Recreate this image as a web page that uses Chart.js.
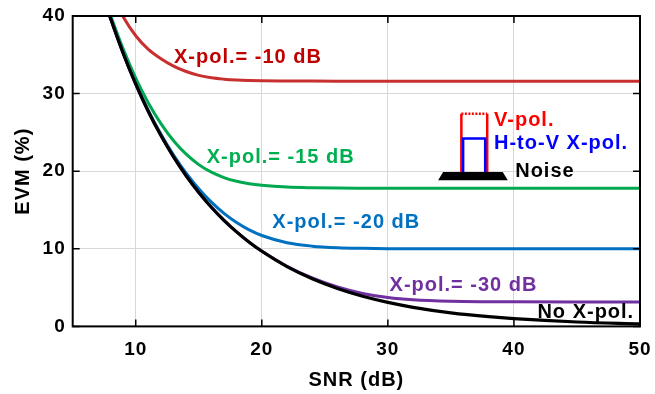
<!DOCTYPE html>
<html><head><meta charset="utf-8">
<script src="https://cdn.jsdelivr.net/npm/chart.js@4"></script>
<style>html,body{margin:0;padding:0;background:#fff}</style>
</head><body>
<canvas id="c" width="655" height="394"></canvas>
<script>
// SNR (dB) sample points
const snr = [5,6,7,8,9,10,11,12,13,14,15,16,17,18,19,20,22,24,26,28,30,32,35,38,40,45,50];
// EVM (%)
const evmNoXpol = [56,50,44.5,39.7,35.2,31.22,27.69,24.59,21.84,19.41,17.26,15.36,13.67,12.18,10.85,9.68,7.7,6.13,4.88,3.88,3.09,2.46,1.75,1.25,1.0,0.57,0.32];
const evmXpol30 = [56,50,44.5,39.7,35.2,31.22,27.69,24.59,21.84,19.41,17.26,15.36,13.67,12.18,10.86,9.71,7.75,6.24,5.08,4.25,3.72,3.42,3.23,3.18,3.17,3.16,3.16];
const evmXpol20 = [56.01,50.02,44.53,39.74,35.26,31.3,27.81,24.76,22.08,19.74,17.73,16.01,14.56,13.38,12.43,11.71,10.78,10.34,10.14,10.06,10.02,10.01,10.0,10.0,10.0,10.0,10.0];
const evmXpol15 = [56.14,50.2,44.78,40.1,35.76,32.0,28.8,26.13,23.93,22.19,20.85,19.87,19.18,18.7,18.38,18.18,17.95,17.86,17.82,17.81,17.8,17.8,17.8,17.8,17.8,17.8,17.8];
const evmXpol10 = [57.2,51.8,47.0,43.1,39.9,37.45,35.7,34.5,33.55,32.85,32.35,32.03,31.86,31.76,31.7,31.66,31.63,31.61,31.6,31.6,31.6,31.6,31.6,31.6,31.6,31.6,31.6];
const xTickValues = [10,20,30,40,50];
const yTickValues = [0,10,20,30,40];
const seriesNames = ['No X-pol.','X-pol.= -30 dB','X-pol.= -20 dB','X-pol.= -15 dB','X-pol.= -10 dB'];
const insetTexts = ['V-pol.','H-to-V X-pol.','Noise'];

const lineColors = ['#000000','#7030a0','#0070c0','#00a84f','#c8302f'];
const textColors = ['#000000','#7030a0','#0070c0','#00b050','#c00000'];
const seriesValues = [evmNoXpol, evmXpol30, evmXpol20, evmXpol15, evmXpol10];
// label anchor (data coordinates) for each series name
const labelAnchors = [[45.7,1.75],[36.0,5.25],[26.7,13.4],[21.5,21.8],[18.9,34.7]];

const FONT = '"Liberation Sans", Arial, sans-serif';

const datasets = seriesValues.map((vals, i) => ({
  label: seriesNames[i],
  data: snr.map((s, k) => ({x: s, y: vals[k]})),
  borderColor: lineColors[i],
  borderWidth: i === 0 ? 3.2 : 3,
  pointRadius: 0,
  fill: false,
  cubicInterpolationMode: 'monotone'
}));

const spacing = {
  id: 'spacing',
  beforeDraw(chart) { chart.ctx.letterSpacing = '1px'; },
  afterDraw(chart) { chart.ctx.letterSpacing = '0px'; }
};

const overlay = {
  id: 'overlay',
  afterDatasetsDraw(chart) {
    const {ctx, chartArea: a, scales: {x, y}} = chart;
    const px = v => x.getPixelForValue(v), py = v => y.getPixelForValue(v);
    ctx.save();
    // frame
    ctx.strokeStyle = '#000'; ctx.lineWidth = 2;
    ctx.strokeRect(a.left, a.top, a.right - a.left, a.bottom - a.top);
    // inner ticks
    const T = 7;
    ctx.lineWidth = 1.5;
    ctx.beginPath();
    xTickValues.forEach(v => { const p = px(v);
      ctx.moveTo(p, a.bottom); ctx.lineTo(p, a.bottom - T);
      ctx.moveTo(p, a.top); ctx.lineTo(p, a.top + T); });
    yTickValues.forEach(v => { const p = py(v);
      ctx.moveTo(a.left, p); ctx.lineTo(a.left + T, p);
      ctx.moveTo(a.right, p); ctx.lineTo(a.right - T, p); });
    ctx.stroke();

    // curve labels
    ctx.font = 'bold 20px ' + FONT;
    ctx.textBaseline = 'middle';
    ctx.textAlign = 'center';
    seriesNames.forEach((t, i) => {
      ctx.fillStyle = textColors[i];
      ctx.fillText(t, px(labelAnchors[i][0]), py(labelAnchors[i][1]));
    });

    // inset schematic
    ctx.lineWidth = 2.5;
    ctx.strokeStyle = '#ff0000';
    ctx.beginPath();
    ctx.moveTo(px(35.83), py(19.9)); ctx.lineTo(px(35.83), py(27.4));
    ctx.moveTo(px(37.88), py(27.4)); ctx.lineTo(px(37.88), py(19.9));
    ctx.stroke();
    ctx.setLineDash([2, 1.5]);
    ctx.beginPath();
    ctx.moveTo(px(35.83), py(27.4)); ctx.lineTo(px(37.88), py(27.4));
    ctx.stroke();
    ctx.setLineDash([]);
    ctx.strokeStyle = '#0000ff';
    ctx.beginPath();
    ctx.moveTo(px(35.97), py(19.9)); ctx.lineTo(px(35.97), py(24.2));
    ctx.lineTo(px(37.72), py(24.2)); ctx.lineTo(px(37.72), py(19.9));
    ctx.stroke();
    ctx.fillStyle = '#000';
    ctx.beginPath();
    ctx.moveTo(px(33.99), py(18.84)); ctx.lineTo(px(39.52), py(18.84));
    ctx.lineTo(px(39.11), py(19.9)); ctx.lineTo(px(34.38), py(19.9));
    ctx.closePath(); ctx.fill();
    ctx.textAlign = 'left';
    ctx.fillStyle = '#ff0000'; ctx.fillText(insetTexts[0], px(38.42), py(26.5));
    ctx.fillStyle = '#0000ff'; ctx.fillText(insetTexts[1], px(38.42), py(23.6));
    ctx.fillStyle = '#000000'; ctx.fillText(insetTexts[2], px(40.1), py(19.9));
    ctx.restore();
  }
};

new Chart(document.getElementById('c'), {
  type: 'line',
  data: {datasets},
  options: {
    responsive: false,
    animation: false,
    devicePixelRatio: 1,
    layout: {padding: {top: 16, right: 15, left: 0, bottom: 0}},
    plugins: {legend: {display: false}, tooltip: {enabled: false}},
    scales: {
      x: {
        type: 'linear', min: 5, max: 50,
        afterBuildTicks: s => { s.ticks = xTickValues.map(v => ({value: v})); },
        afterFit: s => { s.height = 67.6; s.paddingLeft = 0; s.paddingRight = 0; },
        grid: {color: '#d8d8d8', lineWidth: 1, drawTicks: false},
        border: {display: false},
        ticks: {color: '#000', padding: 12, maxRotation: 0, font: {family: FONT, size: 19, weight: 'bold'}},
        title: {display: true, text: 'SNR (dB)', color: '#000', padding: {top: 0, bottom: 2}, font: {family: FONT, size: 20, weight: 'bold'}}
      },
      y: {
        type: 'linear', min: 0, max: 40,
        afterBuildTicks: s => { s.ticks = yTickValues.map(v => ({value: v})); },
        afterFit: s => { s.width = 72.7; s.paddingTop = 0; s.paddingBottom = 0; },
        grid: {color: '#d8d8d8', lineWidth: 1, drawTicks: false},
        border: {display: false},
        ticks: {color: '#000', padding: 7, font: {family: FONT, size: 19, weight: 'bold'}},
        title: {display: true, text: 'EVM (%)', color: '#000', padding: {top: 11, bottom: 0}, font: {family: FONT, size: 20, weight: 'bold'}}
      }
    }
  },
  plugins: [spacing, overlay]
});
</script>
</body></html>
